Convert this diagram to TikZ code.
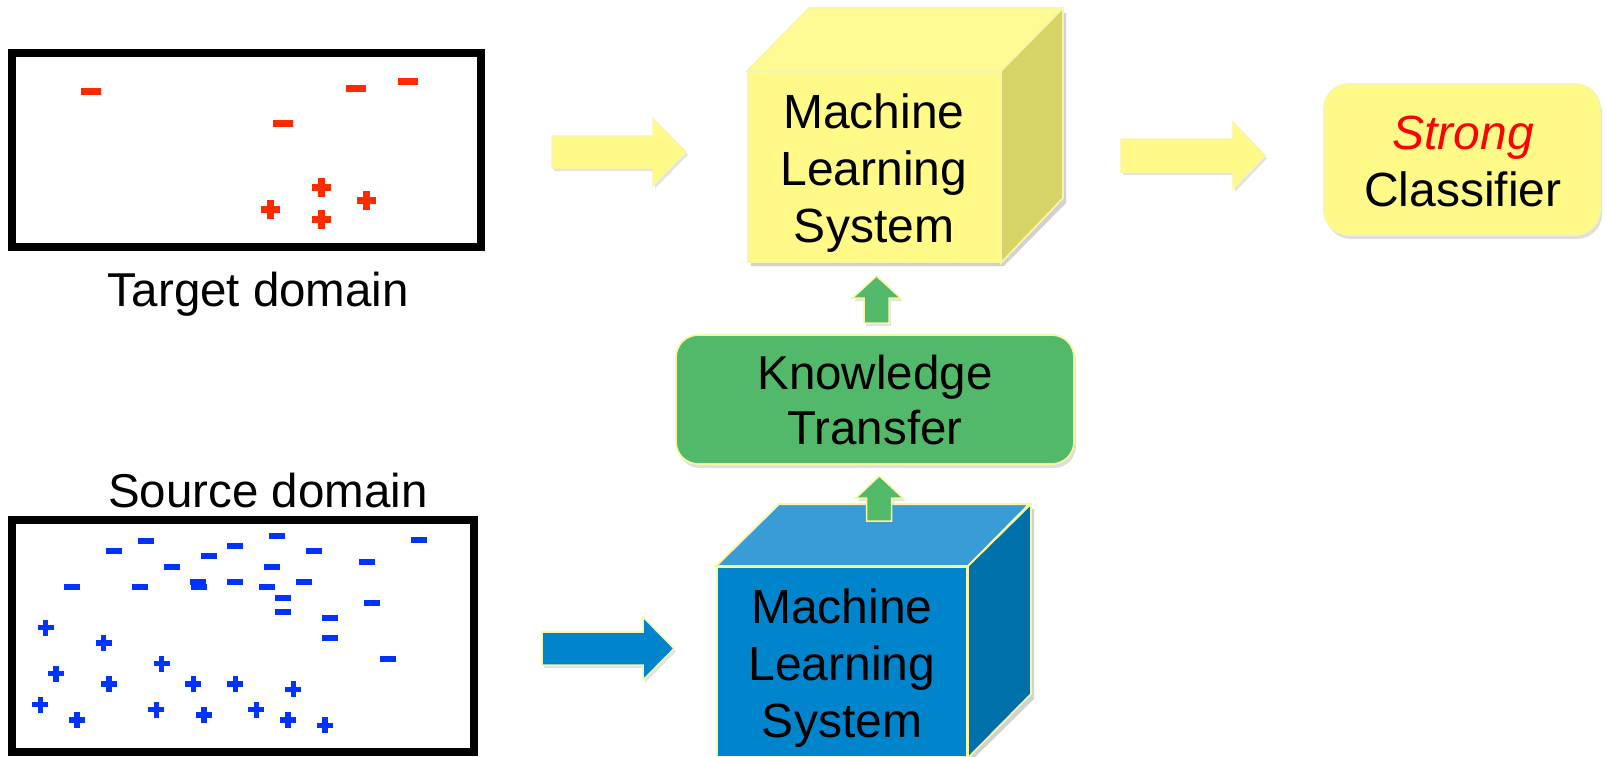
\documentclass[tikz,border=0pt]{standalone}
\usepackage{fontspec}
\setmainfont{Liberation Sans}
\usetikzlibrary{shadows}

\definecolor{tred}{RGB}{255,42,0}
\definecolor{sblue}{RGB}{0,51,255}
\definecolor{ylwfront}{RGB}{255,250,135}
\definecolor{ylwtop}{RGB}{255,250,148}
\definecolor{ylwside}{RGB}{214,212,102}
\definecolor{bluefront}{RGB}{0,132,204}
\definecolor{bluetop}{RGB}{58,156,214}
\definecolor{blueside}{RGB}{0,112,170}
\definecolor{kgreen}{RGB}{83,185,106}
\definecolor{rim}{RGB}{246,246,165}

\begin{document}
\begin{tikzpicture}[x=1pt,y=-1pt,
  domainbox/.style={draw=black,line width=8pt,fill=white},
  domainlabel/.style={anchor=base,inner sep=0pt,font=\fontsize{47.5}{55}\selectfont},
  face/.style={draw=rim,line width=1.8pt,line join=miter},
  boxtext/.style={align=center,inner sep=0pt,font=\fontsize{48}{57}\selectfont},
  softshadow/.style={fill=black,opacity=0.18},
  fatarrow/.style={draw=rim,line width=1.5pt,line join=miter,
    drop shadow={shadow xshift=2pt,shadow yshift=-3pt,opacity=0.22}},
  roundbox/.style={draw=rim,line width=1.8pt,
    drop shadow={shadow xshift=2pt,shadow yshift=-4pt,opacity=0.25}},
  tminus/.style={fill=tred},
  sminus/.style={fill=sblue}]

\useasboundingbox (0,0) rectangle (1606,756);

% ---------- target domain ----------
\node[domainbox,minimum width=469pt,minimum height=194pt,inner sep=0pt] (target) at (246.5,150) {};
\foreach \x/\y in {91/91, 283/123, 356/88, 408/81}
  \fill[tminus] (\x-10,\y-3.5) rectangle (\x+10,\y+3.5);
\foreach \x/\y in {321/187, 366/200, 270/209, 321/219}{
  \fill[tred] (\x-9.5,\y-3.5) rectangle (\x+9.5,\y+3.5);
  \fill[tred] (\x-3.5,\y-9.5) rectangle (\x+3.5,\y+9.5);
}
\node[domainlabel] (targetlbl) at (258.5,306.5) {Target domain};

% ---------- source domain ----------
\node[domainbox,minimum width=462pt,minimum height=232pt,inner sep=0pt] (source) at (243,636) {};
\foreach \x/\y in {114/550.7, 146/540.7, 277/535.7, 235/545.7, 209/555.7,
  172/566.7, 314/550.7, 419/539.7, 367/561.7, 272/566.7, 72/586.7,
  140/586.7, 198/581.7, 199/586.7, 235/581.7, 267/586.7, 304/581.7,
  283/597.7, 283/611.7, 372/602.7, 330/617.7, 330/637.7, 388/658.7}
  \fill[sminus] (\x-8,\y-3) rectangle (\x+8,\y+3);
\foreach \x/\y in {45.7/627.7, 103.7/643, 161.7/663.7, 56/673.7, 109/684,
  193.3/684, 235.3/684, 293.3/689.3, 40.3/704.7, 77/720, 156.3/709.7,
  204/715, 256.3/709.7, 288/720, 325/725.3}{
  \fill[sblue] (\x-8,\y-2.7) rectangle (\x+8,\y+2.7);
  \fill[sblue] (\x-2.7,\y-8) rectangle (\x+2.7,\y+8);
}
\node[domainlabel] (sourcelbl) at (268,507.5) {Source domain};

% ---------- target learner (yellow cube) ----------
\fill[softshadow] (751,76)--(813,13)--(1066,13)--(1066,203)--(1004,266)--(751,266)--cycle;
\node[face,fill=ylwfront,minimum width=252pt,minimum height=190pt,inner sep=0pt] (mlt) at (874,167) {};
\filldraw[face,fill=ylwtop] (mlt.north west)--++(62,-63)--++(252,0)--(mlt.north east)--cycle;
\filldraw[face,fill=ylwside] (mlt.north east)--++(62,-63)--++(0,190)--(mlt.south east)--cycle;
\node[boxtext] (mlttext) at (874,172.8) {Machine\\Learning\\System};

% ---------- source learner (blue cube) ----------
\fill[softshadow] (720,571)--(783,509)--(1034,509)--(1034,699)--(971,761)--(720,761)--cycle;
\node[face,fill=bluefront,minimum width=250pt,minimum height=190pt,inner sep=0pt] (mls) at (842,662) {};
\filldraw[face,fill=bluetop] (mls.north west)--++(63,-62)--++(250,0)--(mls.north east)--cycle;
\filldraw[face,fill=blueside] (mls.north east)--++(63,-62)--++(0,190)--(mls.south east)--cycle;
\node[boxtext] (mlstext) at (842,667.8) {Machine\\Learning\\System};

% ---------- knowledge transfer ----------
\node[roundbox,fill=kgreen,rounded corners=22pt,minimum width=398pt,minimum height=129pt,inner sep=0pt] (kt) at (875,399.5) {};
\node[boxtext,font=\fontsize{47.5}{55}\selectfont] (kttext) at (875,400.3) {Knowledge\\Transfer};

% ---------- strong classifier ----------
\node[roundbox,fill=ylwfront,rounded corners=25pt,minimum width=276pt,minimum height=151pt,inner sep=0pt] (clf) at (1462,159.5) {};
\node[boxtext] (clftext) at (1463,161.2) {{\color{red}\itshape Strong}\\Classifier};

% ---------- block arrows ----------
% target data into the learner
\filldraw[fatarrow,fill=ylwfront] (552,136)--(653,136)--(653,118.5)--(686,152)--(653,185.5)--(653,168)--(552,168)--cycle;
% learner to classifier
\filldraw[fatarrow,fill=ylwfront] (1121,139)--(1233,139)--(1233,122)--(1265,155.5)--(1233,189)--(1233,172)--(1121,172)--cycle;
% source data into its learner
\filldraw[fatarrow,fill=bluefront] (542,632)--(643,632)--(643,617)--(674,648.5)--(643,680)--(643,665)--(542,665)--cycle;
% transfer up into the target learner
\filldraw[fatarrow,fill=kgreen] (864,323)--(864,298)--(852.5,298)--(876.5,276)--(900.5,298)--(889,298)--(889,323)--cycle;
% source learner up into the transfer step
\filldraw[fatarrow,fill=kgreen] (866.5,521)--(866.5,498)--(856,498)--(879.3,476)--(903,498)--(891.5,498)--(891.5,521)--cycle;

\end{tikzpicture}
\end{document}
